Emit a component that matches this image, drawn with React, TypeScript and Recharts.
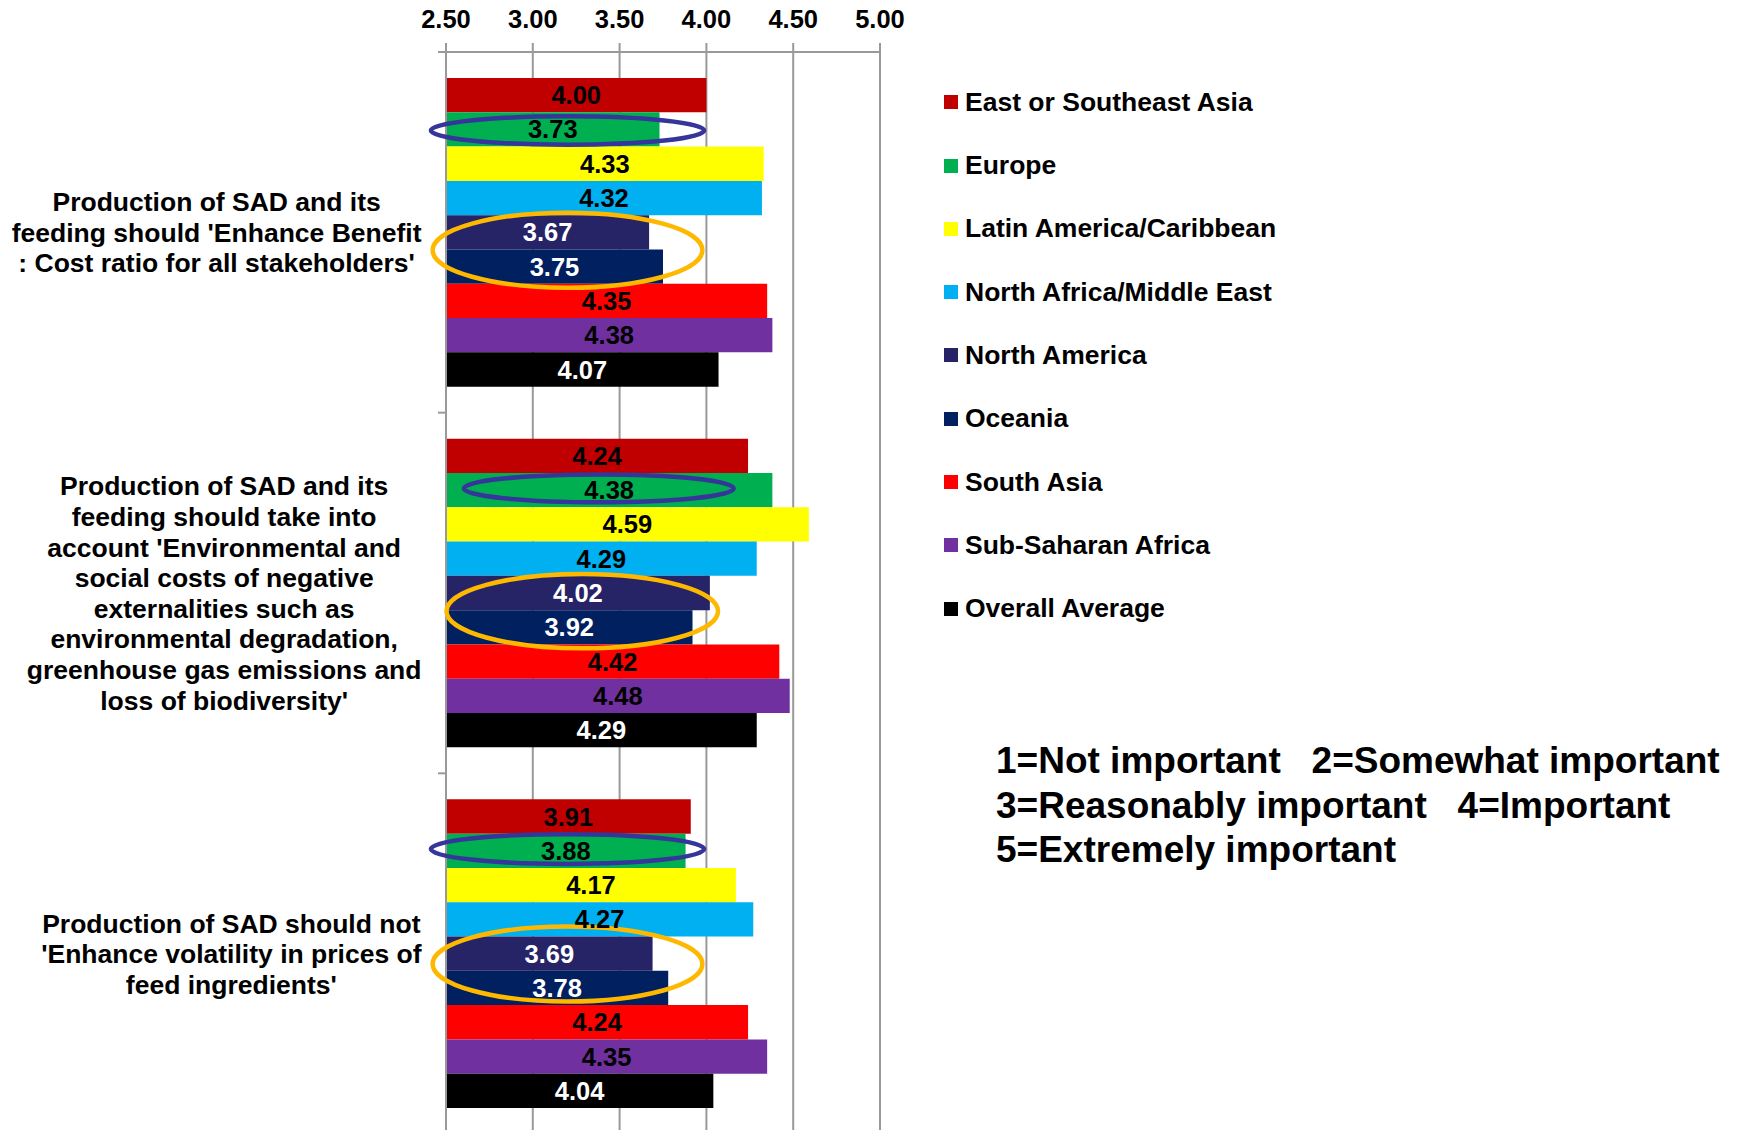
import React from 'react';
import {
  BarChart,
  Bar,
  XAxis,
  YAxis,
  CartesianGrid,
  Legend,
  LabelList,
  ReferenceArea,
} from 'recharts';

const FONT = '"Liberation Sans", Arial, Helvetica, sans-serif';

// Survey statements (category axis)
const questions = [
  "Production of SAD and its feeding should 'Enhance Benefit : Cost ratio for all stakeholders'",
  "Production of SAD and its feeding should take into account 'Environmental and social costs of negative externalities such as environmental degradation, greenhouse gas emissions and loss of biodiversity'",
  "Production of SAD should not 'Enhance volatility in prices of feed ingredients'",
];

// Wrapped tick label lines for each statement
const questionLines = [
  ['Production of SAD and its', "feeding should 'Enhance Benefit", ": Cost ratio for all stakeholders'"],
  [
    'Production of SAD and its',
    'feeding should take into',
    "account 'Environmental and",
    'social costs of negative',
    'externalities such as',
    'environmental degradation,',
    'greenhouse gas emissions and',
    "loss of biodiversity'",
  ],
  ['Production of SAD should not', "'Enhance volatility in prices of", "feed ingredients'"],
];

// Mean importance score per region, one value per statement
const eastSoutheastAsia = [4.0, 4.24, 3.91];
const europe = [3.73, 4.38, 3.88];
const latinAmericaCaribbean = [4.33, 4.59, 4.17];
const northAfricaMiddleEast = [4.32, 4.29, 4.27];
const northAmerica = [3.67, 4.02, 3.69];
const oceania = [3.75, 3.92, 3.78];
const southAsia = [4.35, 4.42, 4.24];
const subSaharanAfrica = [4.38, 4.48, 4.35];
const overallAverage = [4.07, 4.29, 4.04];

const scoreTicks = [2.5, 3.0, 3.5, 4.0, 4.5, 5.0];

const scaleNotes = [
  '1=Not important   2=Somewhat important',
  '3=Reasonably important   4=Important',
  '5=Extremely important',
];

const series = [
  { key: 'eastAsia', name: 'East or Southeast Asia', values: eastSoutheastAsia, color: '#C00000', text: '#000000' },
  { key: 'europe', name: 'Europe', values: europe, color: '#00B050', text: '#000000' },
  { key: 'latinAmerica', name: 'Latin America/Caribbean', values: latinAmericaCaribbean, color: '#FFFF00', text: '#000000' },
  { key: 'northAfrica', name: 'North Africa/Middle East', values: northAfricaMiddleEast, color: '#00B0F0', text: '#000000' },
  { key: 'northAmerica', name: 'North America', values: northAmerica, color: '#262466', text: '#FFFFFF' },
  { key: 'oceania', name: 'Oceania', values: oceania, color: '#002060', text: '#FFFFFF' },
  { key: 'southAsia', name: 'South Asia', values: southAsia, color: '#FF0000', text: '#000000' },
  { key: 'subSaharan', name: 'Sub-Saharan Africa', values: subSaharanAfrica, color: '#7030A0', text: '#000000' },
  { key: 'overall', name: 'Overall Average', values: overallAverage, color: '#000000', text: '#FFFFFF' },
];

const rows = questions.map((question, i) => {
  const row: Record<string, string | number> = { question };
  series.forEach((s) => {
    row[s.key] = s.values[i];
  });
  return row;
});

// Highlight rings: statement, score span, centre row and half-height (in bar thicknesses)
const RING_BLUE = '#35359A';
const RING_ORANGE = '#FFB800';
const rings = [
  { q: 0, from: 2.4, to: 4.0, row: 1.53, half: 0.48, color: RING_BLUE },
  { q: 0, from: 2.41, to: 3.99, row: 5.02, half: 1.16, color: RING_ORANGE },
  { q: 1, from: 2.59, to: 4.17, row: 1.45, half: 0.47, color: RING_BLUE },
  { q: 1, from: 2.49, to: 4.08, row: 5.03, half: 1.15, color: RING_ORANGE },
  { q: 2, from: 2.4, to: 4.0, row: 1.45, half: 0.5, color: RING_BLUE },
  { q: 2, from: 2.41, to: 3.99, row: 4.8, half: 1.16, color: RING_ORANGE },
];

// Layout constants
const CHART_W = 1744;
const CHART_H = 1134;
const AXIS_H = 52;
const PLOT_LEFT = 446;
const PLOT_RIGHT = 880;
const CATEGORY_GAP = 26;
const BAR_SIZE = ((CHART_H - AXIS_H) / questions.length - 2 * CATEGORY_GAP) / series.length;
const GRID = '#999999';
const RING_W = 4.5;
const LABEL_RIGHT = 421.5;
const LABEL_SIZE = 26.5;
const LINE_H = 30.6;

let measureCtx: CanvasRenderingContext2D | null = null;
function textWidth(s: string): number {
  if (!measureCtx && typeof document !== 'undefined') {
    measureCtx = document.createElement('canvas').getContext('2d');
  }
  if (!measureCtx) return s.length * LABEL_SIZE * 0.55;
  measureCtx.font = `bold ${LABEL_SIZE}px "Liberation Sans", Arial, sans-serif`;
  return measureCtx.measureText(s).width;
}

const QuestionTick = (props: any) => {
  const { y, payload } = props;
  const idx = questions.indexOf(payload.value);
  const lines = questionLines[idx] ?? [String(payload.value)];
  const maxW = Math.max(...lines.map(textWidth));
  const cx = LABEL_RIGHT - maxW / 2;
  const top = y - ((lines.length - 1) * LINE_H) / 2;
  const half =
    typeof payload.offset === 'number' && payload.offset > 0
      ? payload.offset
      : (CHART_H - AXIS_H) / questions.length / 2;
  return (
    <g>
      <line x1={PLOT_LEFT - 8} x2={PLOT_LEFT} y1={y - half} y2={y - half} stroke={GRID} strokeWidth={2} />
      <text
        x={cx}
        textAnchor="middle"
        fontFamily={FONT}
        fontWeight={700}
        fontSize={LABEL_SIZE}
        fill="#000000"
      >
        {lines.map((line, i) => (
          <tspan key={i} x={cx} y={top + i * LINE_H} dy="0.36em">
            {line}
          </tspan>
        ))}
      </text>
    </g>
  );
};

const ringShape = (ring: (typeof rings)[number]) => (props: any) => {
  const { x, y, width, height } = props;
  const barH = (height - 2 * CATEGORY_GAP) / series.length;
  const cy = y + CATEGORY_GAP + ring.row * barH;
  return (
    <ellipse
      cx={x + width / 2}
      cy={cy}
      rx={Math.max(1, width / 2 - RING_W / 2)}
      ry={Math.max(1, ring.half * barH - RING_W / 2)}
      fill="none"
      stroke={ring.color}
      strokeWidth={RING_W}
    />
  );
};

const seriesOrder = (name: string) => series.findIndex((s) => s.name === name);

const renderLegend = (props: any) => {
  const payload = [...(props.payload || [])].sort(
    (a: any, b: any) => seriesOrder(a.value) - seriesOrder(b.value),
  );
  return (
    <div style={{ display: 'flex', flexDirection: 'column' }}>
      {payload.map((entry: any) => (
        <div
          key={entry.value}
          style={{ height: 63.3, display: 'flex', alignItems: 'center', whiteSpace: 'nowrap' }}
        >
          <span
            style={{ width: 14, height: 14, background: entry.color, marginRight: 7, display: 'inline-block' }}
          />
          <span style={{ fontFamily: FONT, fontWeight: 700, fontSize: LABEL_SIZE, color: '#000000' }}>
            {entry.value}
          </span>
        </div>
      ))}
    </div>
  );
};

export default function App() {
  return (
    <div
      style={{
        position: 'fixed',
        left: 0,
        top: 0,
        width: CHART_W,
        height: 1130,
        overflow: 'hidden',
        background: '#FFFFFF',
      }}
    >
      <BarChart
        width={CHART_W}
        height={CHART_H}
        data={rows}
        layout="vertical"
        margin={{ top: 0, right: CHART_W - PLOT_RIGHT, bottom: 0, left: 0 }}
        barCategoryGap={CATEGORY_GAP}
        barGap={0}
        barSize={BAR_SIZE}
      >
        <CartesianGrid horizontal={false} vertical stroke={GRID} strokeWidth={2} />
        <XAxis
          type="number"
          orientation="top"
          domain={[2.5, 5]}
          ticks={scoreTicks}
          interval={0}
          height={AXIS_H}
          tickFormatter={(v: number) => v.toFixed(2)}
          tickSize={9}
          tickMargin={15}
          axisLine={{ stroke: GRID, strokeWidth: 2 }}
          tickLine={{ stroke: GRID, strokeWidth: 2 }}
          tick={{ fill: '#000000', fontSize: 25.5, fontWeight: 700, fontFamily: FONT }}
        />
        <YAxis
          type="category"
          dataKey="question"
          width={PLOT_LEFT}
          axisLine={{ stroke: GRID, strokeWidth: 2 }}
          tickLine={false}
          interval={0}
          tick={<QuestionTick />}
        />
        <Legend
          layout="vertical"
          align="center"
          verticalAlign="middle"
          itemSorter={null as any}
          wrapperStyle={{ left: 944, top: 70.6, width: 420 }}
          content={renderLegend}
        />
        {series.map((s) => (
          <Bar key={s.key} dataKey={s.key} name={s.name} fill={s.color} isAnimationActive={false}>
            <LabelList
              dataKey={s.key}
              position="center"
              formatter={(v: any) => Number(v).toFixed(2)}
              fill={s.text}
              fontSize={25.5}
              fontWeight={700}
              fontFamily={FONT}
            />
          </Bar>
        ))}
        {rings.map((ring, i) => (
          <ReferenceArea
            key={i}
            x1={ring.from}
            x2={ring.to}
            y1={questions[ring.q]}
            y2={questions[ring.q]}
            ifOverflow="visible"
            zIndex={1500}
            shape={ringShape(ring)}
          />
        ))}
      </BarChart>
      <div
        style={{
          position: 'absolute',
          left: 996,
          top: 739,
          fontFamily: FONT,
          fontWeight: 700,
          fontSize: 37,
          lineHeight: '44.5px',
          color: '#000000',
          whiteSpace: 'pre',
        }}
      >
        {scaleNotes.map((note, i) => (
          <div key={i}>{note}</div>
        ))}
      </div>
    </div>
  );
}
